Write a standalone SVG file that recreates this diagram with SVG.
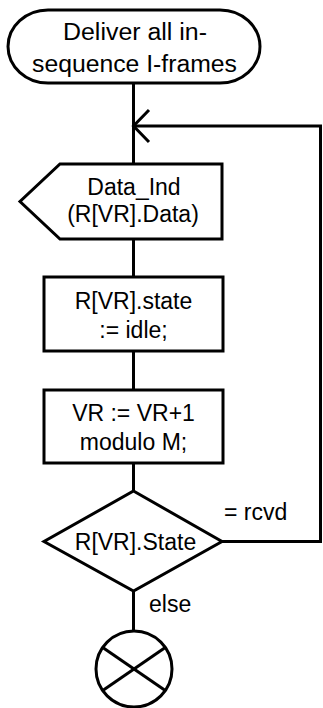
<svg xmlns="http://www.w3.org/2000/svg" width="323" height="708" viewBox="0 0 323 708">
  <defs>
    <style>
      .shape { fill: #ffffff; stroke: #000000; stroke-width: 3; }
      .line { fill: none; stroke: #000000; stroke-width: 3; }
      .txt { font-family: "Liberation Sans", Arial, sans-serif; font-size: 23px; fill: #000000; }
      .mid { text-anchor: middle; }
    </style>
  </defs>
  <rect x="0" y="0" width="323" height="708" fill="#ffffff"/>

  <g id="connectors">
    <line class="line" x1="133.5" y1="83" x2="133.5" y2="164"/>
    <line class="line" x1="133.5" y1="239" x2="133.5" y2="277"/>
    <line class="line" x1="133.5" y1="351" x2="133.5" y2="390"/>
    <line class="line" x1="133.5" y1="463" x2="133.5" y2="491"/>
    <line class="line" x1="133.5" y1="591" x2="133.5" y2="631"/>
    <polyline class="line" points="222,541.5 320.5,541.5 320.5,126 133.5,126"/>
    <polyline class="line" points="149,110 133.5,126 149,142"/>
    <text class="txt" x="224" y="519.5">= rcvd</text>
    <text class="txt" x="149" y="611.5">else</text>
  </g>

  <g id="start">
    <path class="shape" d="M48,10 H220 A40,36.5 0 0 1 220,83 H48 A40,36.5 0 0 1 48,10 Z"/>
    <text class="txt mid" x="135" y="40" textLength="144" lengthAdjust="spacingAndGlyphs">Deliver all in-</text>
    <text class="txt mid" x="134.5" y="72" textLength="205" lengthAdjust="spacingAndGlyphs">sequence I-frames</text>
  </g>

  <g id="data_ind">
    <polygon class="shape" points="60,164 222,164 222,239 60,239 20,201.5"/>
    <text class="txt mid" x="134" y="195">Data_Ind</text>
    <text class="txt mid" x="133" y="222">(R[VR].Data)</text>
  </g>

  <g id="set_state">
    <rect class="shape" x="44" y="277" width="179" height="74"/>
    <text class="txt mid" x="133.5" y="308.5">R[VR].state</text>
    <text class="txt mid" x="133.5" y="337.5">:= idle;</text>
  </g>

  <g id="increment">
    <rect class="shape" x="44" y="390" width="179" height="73"/>
    <text class="txt mid" x="133.5" y="421">VR := VR+1</text>
    <text class="txt mid" x="133.5" y="450">modulo M;</text>
  </g>

  <g id="decision">
    <polygon class="shape" points="133.5,491 222,541.5 133.5,591 44,541.5"/>
    <text class="txt mid" x="135.5" y="549.5">R[VR].State</text>
  </g>

  <g id="end">
    <circle class="shape" cx="134" cy="669" r="38"/>
    <line class="line" x1="102" y1="647" x2="166" y2="691"/>
    <line class="line" x1="166" y1="647" x2="102" y2="691"/>
  </g>
</svg>
